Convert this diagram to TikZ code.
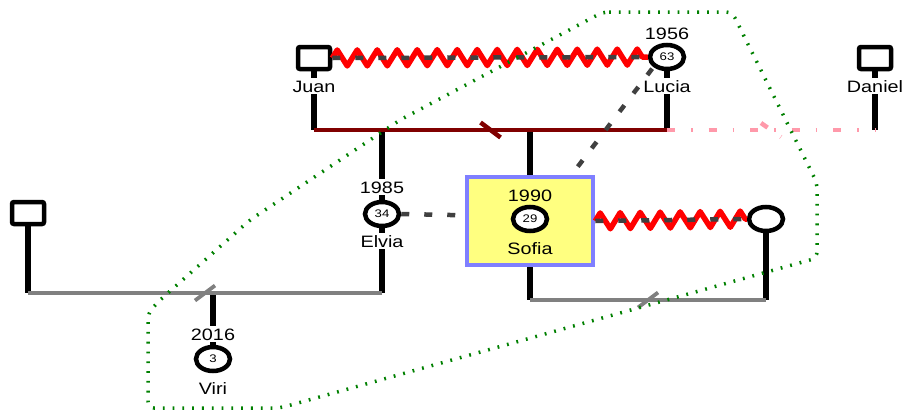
\documentclass[tikz,border=0pt]{standalone}
\usepackage{xcolor}
\usepackage{fontspec}
\setmainfont[FakeStretch=1.2]{Liberation Sans}
\usepackage{tikz}
\usetikzlibrary{positioning,shapes.geometric,decorations.pathmorphing,calc}
\definecolor{wedRed}{HTML}{800000}
\definecolor{zigRed}{HTML}{FF0000}
\definecolor{relGrey}{HTML}{404040}
\definecolor{splitGrey}{HTML}{808080}
\definecolor{exPink}{HTML}{FF99AA}
\definecolor{hullGreen}{HTML}{008000}
\definecolor{egoFill}{HTML}{FFFF80}
\definecolor{egoEdge}{HTML}{7F7FFF}
\newcommand{\namefont}{\fontsize{16.5}{18}\selectfont}
\newcommand{\agefont}{\fontsize{11}{12}\selectfont}

\begin{document}
\begin{tikzpicture}[x=1pt,y=-1pt,
    mbox/.style={draw=black,line width=4.5pt,shape=rectangle,rounded corners=2pt,
                 minimum width=32pt,minimum height=22pt,inner sep=0pt,fill=white},
    fcirc/.style={draw=black,line width=4.5pt,shape=ellipse,minimum width=34pt,
                  minimum height=24pt,inner sep=0pt,fill=white,font=\agefont},
    egobox/.style={draw=egoEdge,line width=4.5pt,fill=egoFill,shape=rectangle,
                   minimum width=126pt,minimum height=88pt},
    plab/.style={font=\namefont,text height=12pt,text depth=0pt,inner sep=2pt,fill=white},
    kin/.style={line width=5.5pt,draw=black},
    wed/.style={line width=4.5pt,draw=wedRed},
    split/.style={line width=3.8pt,draw=splitGrey},
    expart/.style={line width=4.5pt,draw=exPink,dash pattern=on 8pt off 16pt on 1.5pt off 16pt},
    rel/.style={line width=4.5pt,draw=relGrey,dash pattern=on 8pt off 15pt},
    zig/.style={line width=5.5pt,draw=zigRed,line join=round,
                decorate,decoration={zigzag,segment length=20pt,amplitude=8pt}},
    hull/.style={line width=3.5pt,draw=hullGreen,dash pattern=on 1.8pt off 8pt,rounded corners=6pt}]

\useasboundingbox (0,0) rectangle (902,410);

% ======================= persons ======================================================
\node[mbox]  (juan)    at (314,58)  {};
\node[fcirc] (lucia)   at (667,57)  {63};
\node[mbox]  (daniel)  at (875,58)  {};
\node[mbox]  (exman)   at (28,213)  {};
\node[fcirc] (elvia)   at (382,214) {34};
\node[fcirc] (viri)    at (213,359) {3};
\node[egobox] (sofia)  at (530,221) {};
\node[fcirc] (sofiac)  at (530,219) {29};
\node[fcirc] (partner) at (766,219) {};

% ======================= junction points ==============================================
\coordinate (wj) at (314,130);
\coordinate (we) at (382,130);
\coordinate (ws) at (530,130);
\coordinate (wl) at (667,130);
\coordinate (wd) at (875,130);
\coordinate (ex1) at (28,293);
\coordinate (ex2) at (382,293);
\coordinate (vc)  at (213,293);
\coordinate (sf1) at (530,300);
\coordinate (sf2) at (766,300);

% ======================= family lines =================================================
\draw[kin] (juan.south) -- (wj);
\draw[kin] (lucia.south) -- (wl);
\draw[kin] (daniel.south) -- (wd);
\draw[kin] (we) -- (elvia.north);
\draw[kin] (ws) -- (sofia.north);
\draw[wed] (wj) -- (wl);
\draw[wed] ($(wj)!0.5!(wl)$) ++(-10,-7.5) -- ++(20,15);
\draw[expart] (wl) -- (wd);
\draw[expart] ($(wl)!0.5!(wd)$) ++(-10,-7) -- ++(20,14);

\draw[kin] (exman.south) -- (ex1);
\draw[kin] (elvia.south) -- (ex2);
\draw[kin] (vc) -- (viri.north);
\draw[split] (ex1) -- (ex2);
\draw[split] ($(ex1)!0.5!(ex2)$) ++(-10,7.5) -- ++(20,-15);

\draw[kin] (sofia.south) -- (sf1);
\draw[kin] (partner.south) -- (sf2);
\draw[split] (sf1) -- (sf2);
\draw[split] ($(sf1)!0.5!(sf2)$) ++(-10,7.5) -- ++(20,-15);

% ======================= labels =======================================================
\node[plab] (juanlab)   at (314,86)  {Juan};
\node[plab] (lucyear)   at (667,33)  {1956};
\node[plab] (lucialab)  at (667,86)  {Lucia};
\node[plab] (daniellab) at (875,86)  {Daniel};
\node[plab] (elvyear)   at (382,187) {1985};
\node[plab] (elvialab)  at (382,241) {Elvia};
\node[plab] (viryear)   at (213,334) {2016};
\node[plab] (virilab)   at (213,388) {Viri};
\node[plab,fill=none] (sofyear) at (530,195) {1990};
\node[plab,fill=none] (sofialab) at (530,248) {Sofia};

% ======================= relations ====================================================
\draw[zig] (juan.east) -- (lucia.west);
\draw[rel] (juan.east) -- (lucia.west);
\draw[zig] (sofia.east) -- (partner.west);
\draw[rel] (sofia.east) -- (partner.west);
\draw[rel,shorten >=3pt] (elvia.east) -- (sofia.175);
\draw[rel,shorten <=2pt,shorten >=3pt] (lucia.south west) -- (sofia.48);

% ======================= household boundary ===========================================
\draw[hull] (603,12) -- (732,12) -- (817,183) -- (817,258) -- (280,408) -- (148,408)
  -- (148,313) -- (160,300) -- (250,220) -- (400,120) -- cycle;

\end{tikzpicture}
\end{document}
